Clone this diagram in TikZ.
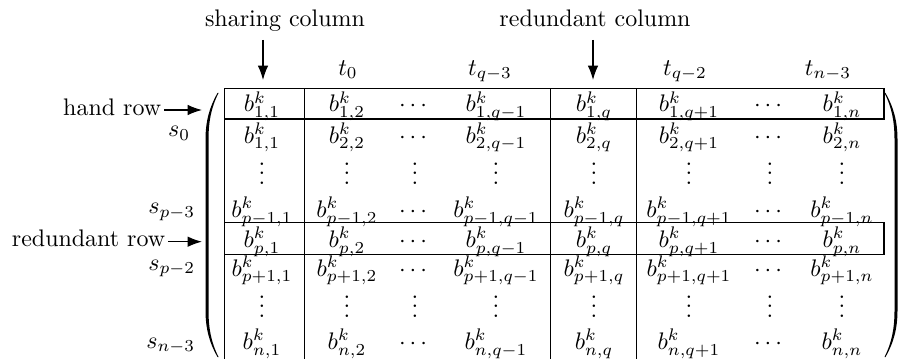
\documentclass[tikz,border=0pt]{standalone}
\usepackage{amsmath, amssymb}
\usepackage{tikz}
\usetikzlibrary{arrows.meta}

\begin{document}
\begin{tikzpicture}[x=0.4175pt, y=-0.4175pt,
    entry/.style={anchor=base, inner sep=0pt},
    vdotsentry/.style={entry, text height=9pt, text depth=0pt},
    rowlabel/.style={anchor=base east, inner sep=1pt},
    toplabel/.style={anchor=base, text depth=.2em},
    boxline/.style={line width=.5pt},
    arr/.style={line width=.5pt, -{Latex[length=6pt,width=4.4pt]}}]
      \useasboundingbox (0,0) rectangle (900,359);
      \foreach \i/\ri/\y in {1/1/112,2/1/143,4/p-1/217.5,5/p/247.5,6/p+1/276,8/n/349.5}
        \node [entry] (m-\i-1) at (262,\y) {$b^k_{\ri,1}$};
      \foreach \i/\ri/\y in {1/1/112,2/2/143,4/p-1/217.5,5/p/247.5,6/p+1/276,8/n/349.5}
        \foreach \j/\cj/\x in {2/2/347,4/q-1/496,5/q/594,6/q+1/689,8/n/842}
          \node [entry] (m-\i-\j) at (\x,\y) {$b^k_{\ri,\cj}$};
      \foreach \i/\y in {1/112,2/143,4/217.5,5/247.5,6/276,8/349.5}
        \foreach \j/\x in {3/415,7/770}
          \node [entry] (m-\i-\j) at (\x,\y) {$\cdots$};
      \foreach \i/\y in {3/184.5,7/317.5}
        \foreach \j/\x in {1/262,2/347,3/415,4/496,5/594,6/689,7/770,8/842}
          \node [vdotsentry] (m-\i-\j) at (\x,\y) {$\vdots$};
      \draw [boxline] (224.5,359) |- (304.3,88.3) -- (304.3,359);
      \draw [boxline] (550.7,359) |- (636.7,88.3) -- (636.7,359);
      \draw [boxline] (224.5,88.3) rectangle (884,119);
      \draw [boxline] (224.5,222.7) rectangle (884,254.3);
      \fill (217.5,93) .. controls (209,108) and (205.5,122) .. (205.5,140) -- (205.5,310)
        .. controls (205.5,328) and (209,342) .. (217.5,357) -- (218.5,357)
        .. controls (211,342) and (208.5,328) .. (208.5,310) -- (208.5,140)
        .. controls (208.5,122) and (211,108) .. (218.5,93) -- cycle;
      \fill (885.5,93) .. controls (894,108) and (897.5,122) .. (897.5,140) -- (897.5,310)
        .. controls (897.5,328) and (894,342) .. (885.5,357) -- (884.5,357)
        .. controls (892,342) and (894.5,328) .. (894.5,310) -- (894.5,140)
        .. controls (894.5,122) and (892,108) .. (884.5,93) -- cycle;
      \node [toplabel] (share) at (285,26.5) {sharing column};
      \node [toplabel] (redcol) at (595,26.5) {redundant column};
      \coordinate (sharetip) at (263,80);
      \coordinate (redcoltip) at (593,80);
      \draw [arr] (share.south -| sharetip) -- (sharetip);
      \draw [arr] (redcol.south -| redcoltip) -- (redcoltip);
      \node [entry] (t0) at (348,75) {$t_0$};
      \node [entry] (tq3) at (490,75) {$t_{q-3}$};
      \node [entry] (tq2) at (685,75) {$t_{q-2}$};
      \node [entry] (tn3) at (828,75) {$t_{n-3}$};
      \node [rowlabel] (hand) at (164,116) {hand row};
      \node [rowlabel] (redrow) at (168,246.5) {redundant row};
      \coordinate (handtip) at (202,110);
      \coordinate (redrowtip) at (202,241.7);
      \draw [arr] (hand.east |- handtip) -- (handtip);
      \draw [arr] (redrow.east |- redrowtip) -- (redrowtip);
      \node [rowlabel] (s0) at (193,136.5) {$s_0$};
      \node [rowlabel] (sp3) at (198,213.5) {$s_{p-3}$};
      \node [rowlabel] (sp2) at (198,270) {$s_{p-2}$};
      \node [rowlabel] (sn3) at (198,348) {$s_{n-3}$};
    \end{tikzpicture}
\end{document}
